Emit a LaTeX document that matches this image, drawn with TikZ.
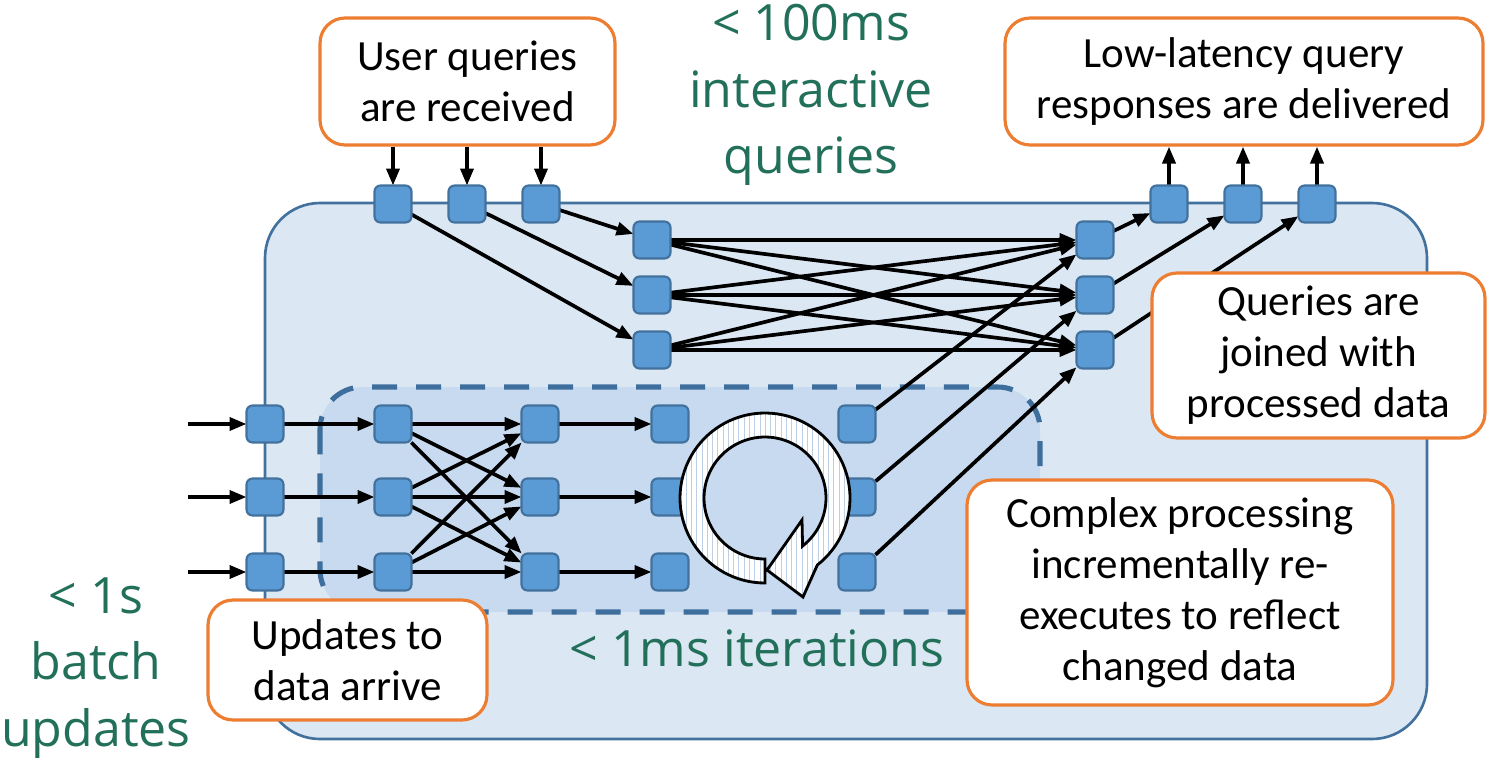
\documentclass[tikz,border=0pt]{standalone}
\usepackage{fontspec}
\newfontfamily\boxfont{Carlito}
\newfontfamily\notefont{Open Sans}
\usetikzlibrary{arrows.meta,patterns}
\definecolor{panel}{HTML}{DCE7F4}
\definecolor{innerpanel}{HTML}{C7DAEF}
\definecolor{frameblue}{HTML}{41719C}
\definecolor{dashblue}{HTML}{3E6E9B}
\definecolor{opfill}{HTML}{5B9BD5}
\definecolor{boxorange}{HTML}{ED7D31}
\definecolor{notegreen}{HTML}{22705A}
\definecolor{hatch}{HTML}{BCCFE4}
\pgfdeclarelayer{panels}
\pgfdeclarelayer{wires}
\pgfsetlayers{panels,wires,main}

\begin{document}
\begin{tikzpicture}[x=0.02cm,y=-0.02cm,
  op/.style={draw=frameblue, fill=opfill, line width=1.2pt, rounded corners=0.12cm,
    minimum size=0.74cm, inner sep=0pt, outer sep=0pt},
  flow/.style={line width=2.1pt, -{Triangle[length=0.34cm,width=0.26cm]}},
  callout/.style={draw=boxorange, fill=white, line width=1.8pt, rounded corners=0.5cm,
    align=center, inner sep=0pt, font=\boxfont\fontsize{24.5}{29}\selectfont},
  note/.style={text=notegreen, align=center, inner sep=0pt,
    font=\notefont\fontsize{28.5}{38}\selectfont}]

\useasboundingbox (0,0) rectangle (1490,761);

% system panel and the iteration region
\begin{pgfonlayer}{panels}
\draw[frameblue, fill=panel, line width=1.5pt, rounded corners=1.1cm]
  (265,203) rectangle (1427,739);
\draw[fill=innerpanel, draw=dashblue, line width=2.9pt, dash pattern=on 0.5cm off 0.38cm,
  rounded corners=0.85cm] (320,387) rectangle (1040,612);
\end{pgfonlayer}

% query path operators
\node[op] (qi1) at (393,204) {};
\node[op] (qi2) at (467,204) {};
\node[op] (qi3) at (541,204) {};
\node[op] (a1) at (652,240) {};
\node[op] (a2) at (652,295) {};
\node[op] (a3) at (652,350) {};
\node[op] (b1) at (1095,240) {};
\node[op] (b2) at (1095,295) {};
\node[op] (b3) at (1095,350) {};
\node[op] (qo1) at (1169,204) {};
\node[op] (qo2) at (1243,204) {};
\node[op] (qo3) at (1317,204) {};

% update path operators
\foreach \r/\y in {1/424,2/497,3/572}{
  \node[op] (i\r) at (265,\y) {};
  \node[op] (c\r) at (393,\y) {};
  \node[op] (d\r) at (540,\y) {};
  \node[op] (e\r) at (670,\y) {};
  \node[op] (f\r) at (857,\y) {};
  \coordinate (s\r) at (188,\y);
}

% iteration loop symbol
\path[preaction={fill=white}, pattern=vertical lines, pattern color=hatch,
  draw=black, line width=1.6pt, line join=miter]
  (765,583)
  -- plot[domain=90:412, samples=90] ({765+85*cos(\x)},{498+85*sin(\x)})
  -- (803,597) -- (767,570) -- (802,520)
  -- plot[domain=412:90, samples=90] ({765+61*cos(\x)},{498+61*sin(\x)})
  -- cycle;

% callouts
\node[callout, minimum width=5.9cm, minimum height=2.54cm] (ubox) at (467.5,81.5)
  {User queries\\are received};
\node[callout, minimum width=9.56cm, minimum height=2.54cm] (lbox) at (1244,81.5)
  {Low-latency query\\responses are delivered};
\node[callout, minimum width=6.66cm, minimum height=3.3cm] (qbox) at (1318.5,355.5)
  {Queries are\\joined with\\processed data};
\node[callout, minimum width=8.52cm, minimum height=4.5cm] (cbox) at (1180,592.5)
  {Complex processing\\incrementally re-\\executes to reflect\\changed data};
\node[callout, minimum width=5.58cm, minimum height=2.4cm] (dbox) at (347.5,660)
  {Updates to\\data arrive};

% latency notes
\node[note] (n100) at (811,95) {< 100ms\\interactive\\queries};
\node[note] (n1ms) at (757,648) {< 1ms iterations};
\node[note] (n1s) at (96,668) {< 1s\\batch\\updates};

% connectors
\begin{pgfonlayer}{wires}
\foreach \k in {1,2,3}{
  \draw[flow] (qi\k |- ubox.south) -- (qi\k);
  \draw[flow] (qo\k) -- (qo\k |- lbox.south);
  \draw[flow] (s\k) -- (i\k);
  \draw[flow] (i\k) -- (c\k);
  \draw[flow] (d\k) -- (e\k);
  \draw[flow] (f\k) -- (b\k);
  \draw[flow] (b\k) -- (qo\k);
  \foreach \m in {1,2,3}{
    \draw[flow] (a\k) -- (b\m);
    \draw[flow] (c\k) -- (d\m);
  }
}
\draw[flow] (qi1) -- (a3);
\draw[flow] (qi2) -- (a2);
\draw[flow] (qi3) -- (a1);
\end{pgfonlayer}
\end{tikzpicture}
\end{document}
